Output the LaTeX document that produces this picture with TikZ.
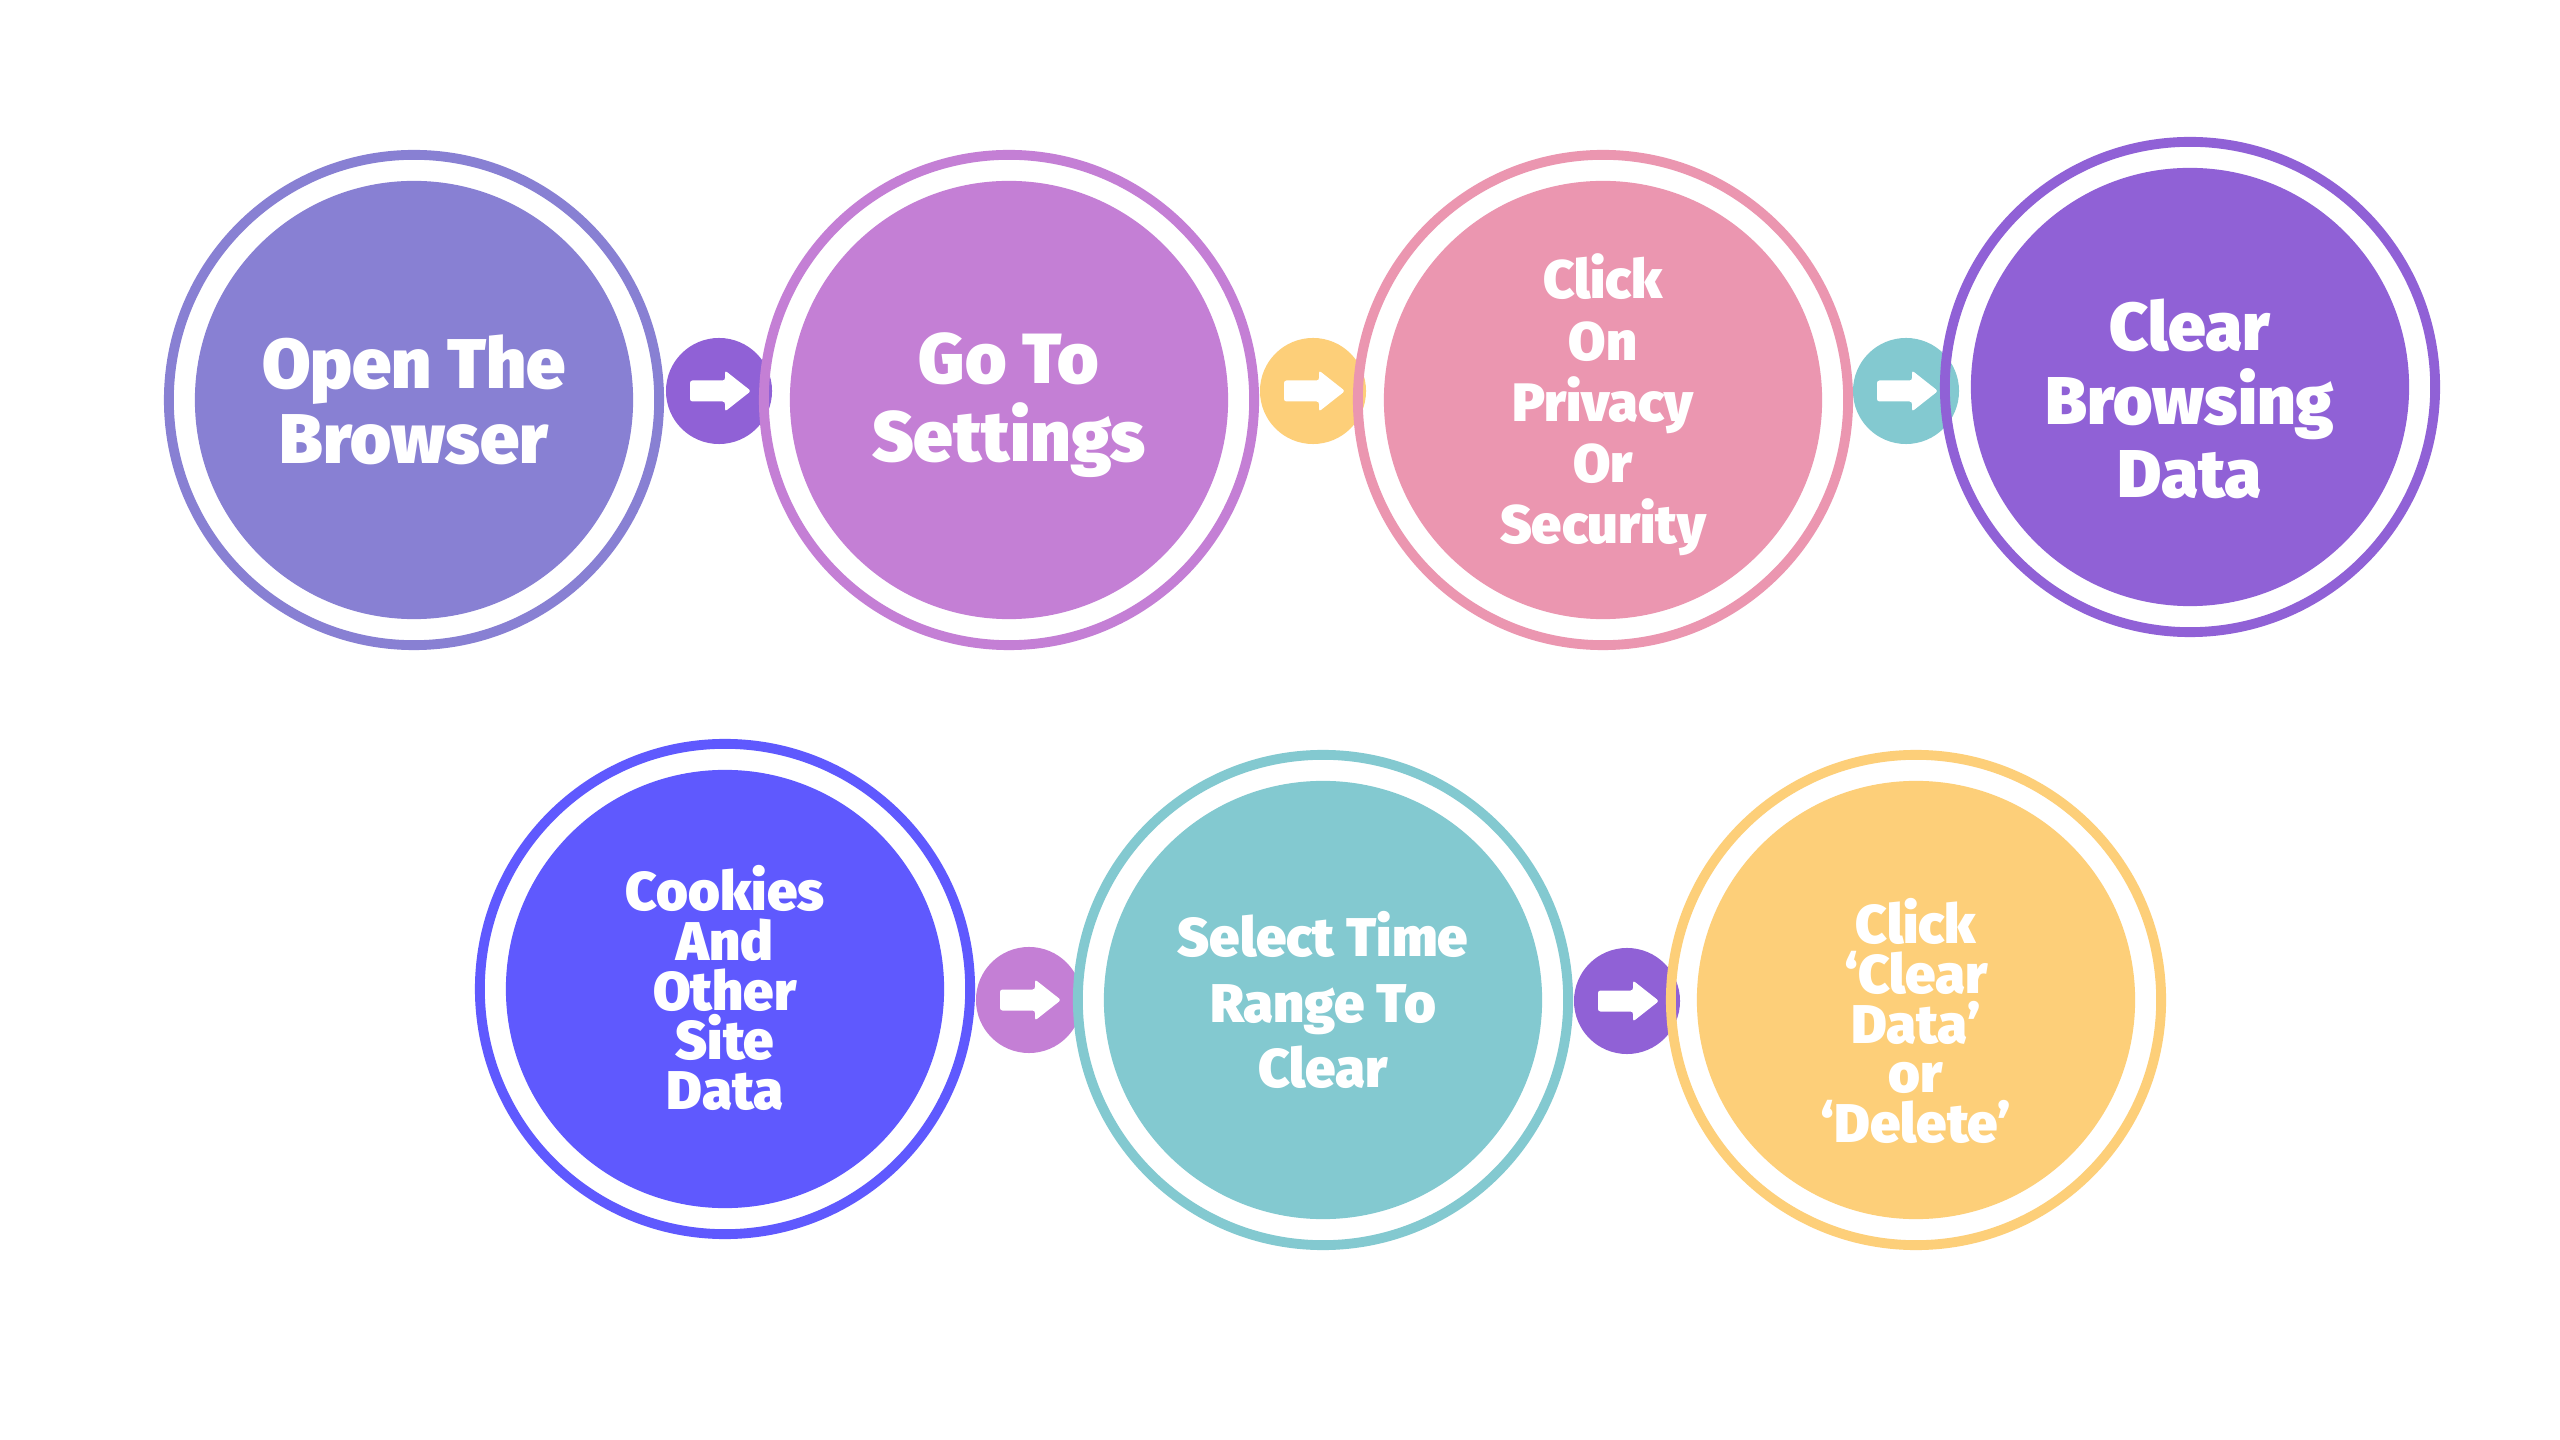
\documentclass[tikz,border=0pt]{standalone}
\usepackage{fontspec}
\setmainfont{Fira Sans}[BoldFont={Fira Sans Black}]
\definecolor{cA}{HTML}{8880D3}
\definecolor{cB}{HTML}{C47FD5}
\definecolor{cC}{HTML}{EB96B0}
\definecolor{cD}{HTML}{9061D6}
\definecolor{cE}{HTML}{5F59FE}
\definecolor{cF}{HTML}{83C9D0}
\definecolor{cG}{HTML}{FDCF79}
\tikzset{
  ring/.style={circle, draw=#1, line width=2.8pt, minimum size=4.9cm, inner sep=0pt},
  core/.style={circle, fill=#1, minimum size=4.38cm, inner sep=0pt},
  arrowdisk/.style={circle, fill=#1, minimum size=1.06cm, inner sep=0pt},
  steplabel/.style={text=white, align=center, inner sep=0pt},
  arrowicon/.pic={\fill[white, rounded corners=0.7pt]
     (-29,-10.5) -- (6,-10.5) -- (6,-20.5) -- (32,0) -- (6,20.5) -- (6,10.5) -- (-29,10.5) -- cycle;}
}
\newcommand{\fs}[2]{\fontsize{#1}{#2}\selectfont\bfseries}
\begin{document}
\begin{tikzpicture}[x=0.01cm,y=-0.01cm]
\useasboundingbox[fill=white] (0,0) rectangle (2560,1440);
% arrow disks
\node[arrowdisk=cD] (a1) at (719,391) {};
\node[arrowdisk=cG] (a2) at (1313,391) {};
\node[arrowdisk=cF] (a3) at (1906,391) {};
\node[arrowdisk=cB] (a4) at (1029,1000) {};
\node[arrowdisk=cD] (a5) at (1627,1001) {};
\pic at (a1) {arrowicon};
\pic at (a2) {arrowicon};
\pic at (a3) {arrowicon};
\pic at (a4) {arrowicon};
\pic at (a5) {arrowicon};
% rings and cores
\node[ring=cA] (r1) at (414,400) {};
\node[core=cA] (c1) at (r1) {};
\node[ring=cB] (r2) at (1009,400) {};
\node[core=cB] (c2) at (r2) {};
\node[ring=cC] (r3) at (1603,400) {};
\node[core=cC] (c3) at (r3) {};
\node[ring=cD] (r4) at (2190,387) {};
\node[core=cD] (c4) at (r4) {};
\node[ring=cE] (r5) at (725,989) {};
\node[core=cE] (c5) at (r5) {};
\node[ring=cF] (r6) at (1323,1000) {};
\node[core=cF] (c6) at (r6) {};
\node[ring=cG] (r7) at (1916,1000) {};
\node[core=cG] (c7) at (r7) {};
% labels
\node[steplabel, font=\fs{20}{21.3}] (t1) at (414,400) {Open The\\Browser};
\node[steplabel, font=\fs{20.2}{22.2}] (t2) at (1009,405) {Go To\\Settings};
\node[steplabel, font=\fs{15.4}{17.4}] (t3) at (1603,405) {Click\\On\\Privacy\\Or\\Security};
\node[steplabel, font=\fs{19.2}{21}] (t4) at (2190,399) {Clear\\Browsing\\Data};
\node[steplabel, font=\fs{15.5}{14.1}] (t5) at (725,988) {Cookies\\And\\Other\\Site\\Data};
\node[steplabel, font=\fs{15.5}{18.5}] (t6) at (1323,1000) {Select Time\\Range To\\Clear};
\node[steplabel, font=\fs{15.5}{14.2}] (t7) at (1916,1021) {Click\\‘Clear\\Data’\\or\\‘Delete’};
\end{tikzpicture}
\end{document}
